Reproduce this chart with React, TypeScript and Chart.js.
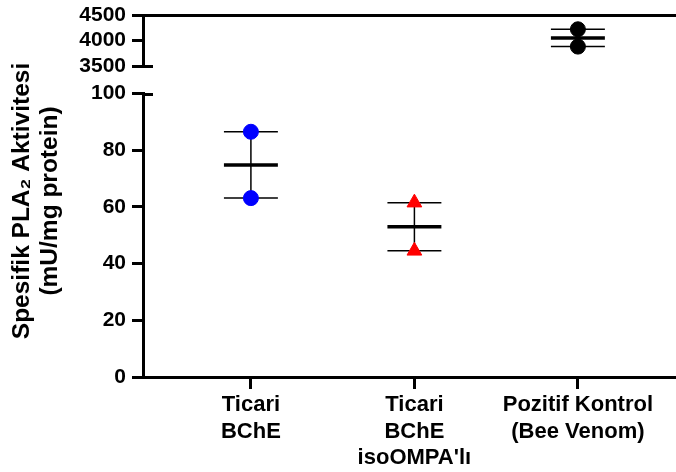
import React, { useEffect, useRef } from 'react';
import { Chart, registerables } from 'chart.js';

Chart.register(...registerables);

// ---- data ----
const categoryLabels: string[][] = [
  ['Ticari', 'BChE'],
  ['Ticari', 'BChE', "isoOMPA'lı"],
  ['Pozitif Kontrol', '(Bee Venom)'],
];
const ticariBChE = [86.5, 63.1];
const ticariBChEIso = [61.5, 44.5];
const beeVenom = [4220, 3880];
const lowerTicks = [0, 20, 40, 60, 80, 100];
const upperTicks = [3500, 4000, 4500];
const yTitleLines = ['Spesifik PLA₂ Aktivitesi', '(mU/mg protein)'];

const FONT = "'Liberation Sans', Arial, Helvetica, sans-serif";
const CAP_HALF = 0.165; // half width of mean / SEM caps in category units

const mean = (a: number[]) => a.reduce((s, v) => s + v, 0) / a.length;
const sem = (a: number[]) => {
  const m = mean(a);
  const sd = Math.sqrt(a.reduce((s, v) => s + (v - m) ** 2, 0) / (a.length - 1));
  return sd / Math.sqrt(a.length);
};

const groups = [
  { values: ticariBChE, axis: 'yBot', color: '#0000FF', style: 'circle', radius: 7.5 },
  { values: ticariBChEIso, axis: 'yBot', color: '#FF0000', style: 'triangle', radius: 8.5 },
  { values: beeVenom, axis: 'yTop', color: '#000000', style: 'circle', radius: 7.5 },
];

const hiddenAxis = {
  type: 'linear',
  position: 'left',
  display: true,
  ticks: { display: false },
  grid: { display: false, drawTicks: false },
  border: { display: false },
};

const fixWidth = (w: number) => (s: any) => {
  s.width = w;
  s.paddingTop = 0;
  s.paddingBottom = 0;
  s.paddingLeft = 0;
  s.paddingRight = 0;
};

const axisBreakPlugin = {
  id: 'axisBreak',
  afterDraw(chart: any) {
    const ctx = chart.ctx;
    const left = chart.chartArea.left;
    const marks: [any, number][] = [
      [chart.scales.yTop, upperTicks[0]],
      [chart.scales.yBot, lowerTicks[lowerTicks.length - 1]],
    ];
    ctx.save();
    ctx.strokeStyle = '#000';
    ctx.lineWidth = 3;
    for (const [s, v] of marks) {
      const y = Math.round(s.getPixelForValue(v)) + 0.5;
      ctx.beginPath();
      ctx.moveTo(left, y);
      ctx.lineTo(left + 10, y);
      ctx.stroke();
    }
    ctx.restore();
  },
};

export default function App() {
  const ref = useRef<HTMLCanvasElement>(null);

  useEffect(() => {
    const datasets: any[] = [];
    // points (drawn on top)
    groups.forEach((g, i) => {
      datasets.push({
        data: g.values.map((v) => ({ x: i, y: v })),
        yAxisID: g.axis,
        pointStyle: g.style,
        pointRadius: g.radius,
        pointBackgroundColor: g.color,
        pointBorderColor: g.color,
        pointBorderWidth: 1,
        showLine: false,
        order: 0,
        clip: false,
      });
    });
    // mean and SEM bars
    groups.forEach((g, i) => {
      const m = mean(g.values);
      const s = sem(g.values);
      const lineDs = (data: any[], w: number) => ({
        data,
        yAxisID: g.axis,
        showLine: true,
        borderColor: '#000',
        borderWidth: w,
        pointRadius: 0,
        order: 1,
        clip: false,
      });
      datasets.push(lineDs([{ x: i, y: m - s }, { x: i, y: m + s }], 1.5));
      datasets.push(lineDs([{ x: i - CAP_HALF, y: m + s }, { x: i + CAP_HALF, y: m + s }], 1.5));
      datasets.push(lineDs([{ x: i - CAP_HALF, y: m - s }, { x: i + CAP_HALF, y: m - s }], 1.5));
      datasets.push(lineDs([{ x: i - CAP_HALF, y: m }, { x: i + CAP_HALF, y: m }], 3.5));
    });

    const tickFont = { family: FONT, size: 21, weight: 'bold' as const };

    const chart = new Chart(ref.current as HTMLCanvasElement, {
      type: 'scatter',
      data: { datasets },
      plugins: [axisBreakPlugin],
      options: {
        animation: false,
        responsive: false,
        maintainAspectRatio: false,
        layout: { autoPadding: false, padding: { top: 15, left: 0, right: 0, bottom: 0 } },
        plugins: { legend: { display: false }, tooltip: { enabled: false } },
        scales: {
          x: {
            type: 'linear',
            position: 'bottom',
            min: -0.66,
            max: 2.6,
            afterBuildTicks: (s: any) => {
              s.ticks = categoryLabels.map((_, i) => ({ value: i }));
            },
            afterFit: (s: any) => {
              s.height = 95;
              s.paddingLeft = 0;
              s.paddingRight = 0;
              s.paddingTop = 0;
              s.paddingBottom = 0;
            },
            ticks: {
              autoSkip: false,
              maxRotation: 0,
              minRotation: 0,
              padding: 3,
              color: '#000',
              font: { family: FONT, size: 22, weight: 'bold' },
              callback: (v: any) => categoryLabels[v as number],
            },
            grid: { display: true, drawOnChartArea: false, drawTicks: true, tickLength: 12, tickColor: '#000', lineWidth: 3 },
            border: { display: true, color: '#000', width: 3 },
          },
          yTitleSpacer: {
            ...hiddenAxis,
            stack: 'title',
            stackWeight: 10,
            weight: 50,
            afterFit: fixWidth(64),
          },
          yTitle: {
            ...hiddenAxis,
            stack: 'title',
            stackWeight: 352,
            weight: 40,
            title: {
              display: true,
              text: yTitleLines,
              color: '#000',
              font: { family: FONT, size: 24.5, weight: 'bold', lineHeight: '28px' },
              padding: { top: 8.5, bottom: 0 },
            },
            afterFit: fixWidth(64),
          },
          yTop: {
            type: 'linear',
            position: 'left',
            stack: 'main',
            stackWeight: 51,
            weight: 30,
            min: upperTicks[0],
            max: upperTicks[upperTicks.length - 1],
            afterBuildTicks: (s: any) => {
              s.ticks = upperTicks.map((v) => ({ value: v }));
            },
            afterFit: fixWidth(79),
            ticks: { color: '#000', font: tickFont, padding: 6, autoSkip: false, callback: (v: any) => String(v) },
            grid: {
              display: true,
              drawOnChartArea: true,
              drawTicks: true,
              tickLength: 11,
              tickColor: '#000',
              lineWidth: 3,
              color: (c: any) => (c.tick && c.tick.value === upperTicks[upperTicks.length - 1] ? '#000' : 'rgba(0,0,0,0)'),
            },
            border: { display: true, color: '#000', width: 3 },
          },
          yGap: {
            ...hiddenAxis,
            stack: 'main',
            stackWeight: 27.5,
            weight: 20,
            afterFit: fixWidth(79),
          },
          yBot: {
            type: 'linear',
            position: 'left',
            stack: 'main',
            stackWeight: 283.5,
            weight: 10,
            min: lowerTicks[0],
            max: lowerTicks[lowerTicks.length - 1],
            afterBuildTicks: (s: any) => {
              s.ticks = lowerTicks.map((v) => ({ value: v }));
            },
            afterFit: fixWidth(79),
            ticks: { color: '#000', font: tickFont, padding: 6, autoSkip: false, callback: (v: any) => String(v) },
            grid: { display: true, drawOnChartArea: false, drawTicks: true, tickLength: 11, tickColor: '#000', lineWidth: 3 },
            border: { display: true, color: '#000', width: 3 },
          },
        },
      } as any,
    });
    return () => chart.destroy();
  }, []);

  return (
    <div style={{ position: 'fixed', left: 0, top: 0, width: 676, height: 472, background: '#fff' }}>
      <canvas ref={ref} width={676} height={472} style={{ display: 'block', width: 676, height: 472 }} />
    </div>
  );
}
